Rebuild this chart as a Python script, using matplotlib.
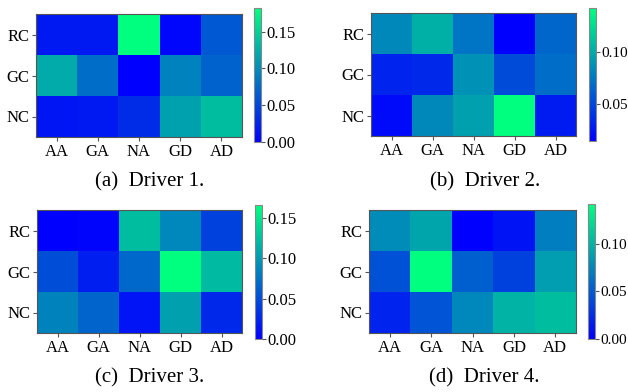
import numpy as np
import matplotlib
matplotlib.use("Agg")
import matplotlib.pyplot as plt

plt.rcParams['font.family'] = ['Liberation Serif', 'DejaVu Serif']

cols = ["AA", "GA", "NA", "GD", "AD"]
rows = ["RC", "GC", "NC"]
captions = ["(a)  Driver 1.", "(b)  Driver 2.", "(c)  Driver 3.", "(d)  Driver 4."]

driver1 = [[0.018, 0.018, 0.182, 0.004, 0.064],
           [0.122, 0.078, 0.000, 0.093, 0.071],
           [0.015, 0.018, 0.032, 0.115, 0.135]]
driver2 = [[0.082, 0.102, 0.072, 0.014, 0.065],
           [0.032, 0.034, 0.087, 0.052, 0.069],
           [0.019, 0.082, 0.094, 0.142, 0.027]]
driver3 = [[0.000, 0.003, 0.123, 0.088, 0.043],
           [0.050, 0.020, 0.068, 0.166, 0.121],
           [0.085, 0.065, 0.013, 0.104, 0.026]]
driver4 = [[0.078, 0.092, 0.000, 0.011, 0.070],
           [0.045, 0.142, 0.053, 0.037, 0.088],
           [0.020, 0.047, 0.075, 0.100, 0.105]]
data = [driver1, driver2, driver3, driver4]
cbar_ticks = [0.0, 0.05, 0.10, 0.15]

W, H = 628, 392
fig = plt.figure(figsize=(W/100, H/100), dpi=100)

def px(x0, y0, x1, y1):
    return [x0/W, 1 - y1/H, (x1-x0)/W, (y1-y0)/H]

heat_boxes = [(36, 14, 242, 137), (371, 13, 576, 136), (37, 210, 242, 333), (369, 210, 576, 333)]
cbar_boxes = [(254, 8, 261, 142), (589, 8, 596, 141), (255, 205, 262, 339), (588, 204, 595, 339)]
cap_pos = [(150, 182), (485, 182), (150, 378), (484, 378)]
cbar_label_size = [12, 11, 12, 11]

for i in range(4):
    arr = np.array(data[i])
    ax = fig.add_axes(px(*heat_boxes[i]))
    im = ax.imshow(arr, cmap='winter', aspect='auto', interpolation='nearest')
    ax.set_xticks(range(len(cols)))
    ax.set_xticklabels(cols)
    ax.set_yticks(range(len(rows)))
    ax.set_yticklabels(rows)
    ax.tick_params(labelsize=12, length=3, color='#555555', pad=2)
    for s in ax.spines.values():
        s.set_color('#555555')
    cax = fig.add_axes(px(*cbar_boxes[i]))
    cb = fig.colorbar(im, cax=cax)
    lo, hi = arr.min(), arr.max()
    cb.set_ticks([t for t in cbar_ticks if lo - 1e-9 <= t <= hi + 1e-9])
    cb.ax.yaxis.set_major_formatter(matplotlib.ticker.FormatStrFormatter('%.2f'))
    cb.ax.tick_params(labelsize=cbar_label_size[i], length=3, color='#555555', pad=1)
    cb.outline.set_edgecolor('#888888')
    fig.text(cap_pos[i][0] / W, 1 - cap_pos[i][1] / H, captions[i],
             ha='center', va='center', fontsize=15)

fig.savefig("out.png", dpi=100)
